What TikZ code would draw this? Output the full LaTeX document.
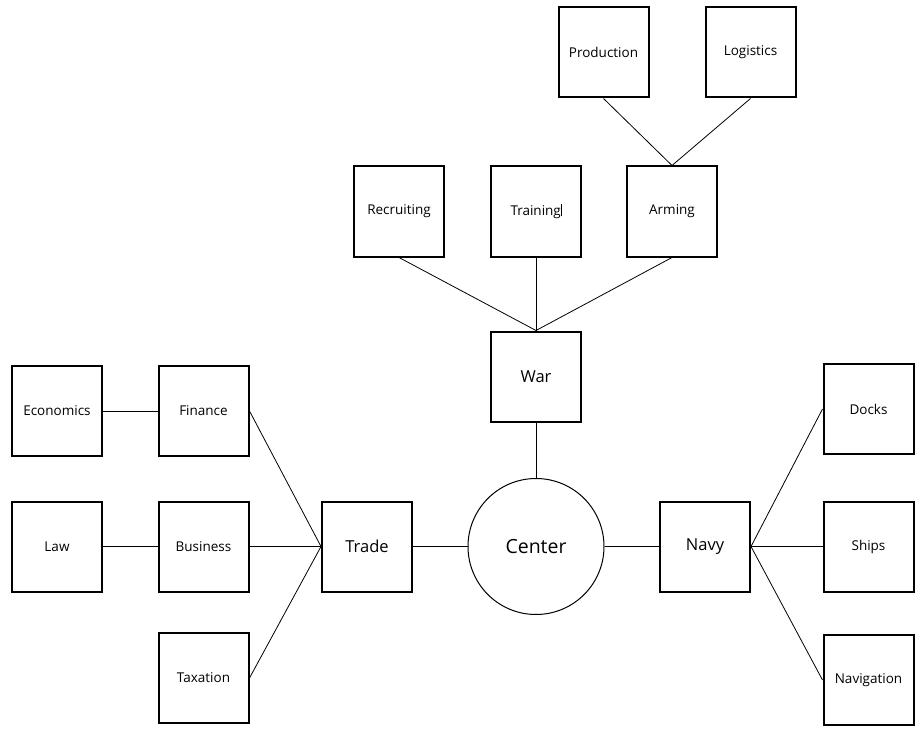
\documentclass[tikz,border=0pt]{standalone}
\usepackage{fontspec}
\setmainfont{Open Sans}
\begin{document}
\begin{tikzpicture}[x=1pt,y=-1pt,
  box/.style={draw=black,line width=2pt,minimum width=90pt,minimum height=90pt,inner sep=0pt,font=\fontsize{13.5}{15}\selectfont},
  bigbox/.style={box,font=\fontsize{16.5}{18}\selectfont},
  hub/.style={draw=black,line width=1pt,circle,minimum size=136pt,inner sep=0pt,font=\fontsize{19.5}{21}\selectfont},
  link/.style={draw=black,line width=0.8pt}]
\useasboundingbox (0,0) rectangle (924,733);
\node[box] (production) at (603.5,52.5) {Production};
\node[box] (logistics) at (750.5,52.5) {Logistics};
\node[box] (recruiting) at (399,211.5) {Recruiting};
\node[box] (training) at (536,211.5) {Training\rule[-1pt]{0.6pt}{12pt}};
\node[box] (arming) at (672,211.5) {Arming};
\node[bigbox] (war) at (536,376.5) {War};
\node[box] (economics) at (57,411) {Economics};
\node[box] (finance) at (203.5,411) {Finance};
\node[box] (law) at (57,546.5) {Law};
\node[box] (business) at (203.5,546.5) {Business};
\node[box] (taxation) at (203.5,678) {Taxation};
\node[bigbox] (trade) at (367,546.5) {Trade};
\node[hub] (center) at (536,546.5) {Center};
\node[bigbox] (navy) at (705,546.5) {Navy};
\node[box] (docks) at (868.5,409) {Docks};
\node[box] (ships) at (868.5,546.5) {Ships};
\node[box] (navigation) at (868.5,680) {Navigation};
\draw[link] (production.south) -- (arming.north);
\draw[link] (logistics.south) -- (arming.north);
\draw[link] (recruiting.south) -- (war.north);
\draw[link] (training.south) -- (war.north);
\draw[link] (arming.south) -- (war.north);
\draw[link] (war.south) -- (center.north);
\draw[link] (economics.east) -- (finance.west);
\draw[link] (law.east) -- (business.west);
\draw[link] (finance.east) -- (trade.west);
\draw[link] (business.east) -- (trade.west);
\draw[link] (taxation.east) -- (trade.west);
\draw[link] (trade.east) -- (center.west);
\draw[link] (center.east) -- (navy.west);
\draw[link] (navy.east) -- (docks.west);
\draw[link] (navy.east) -- (ships.west);
\draw[link] (navy.east) -- (navigation.west);
\end{tikzpicture}
\end{document}
